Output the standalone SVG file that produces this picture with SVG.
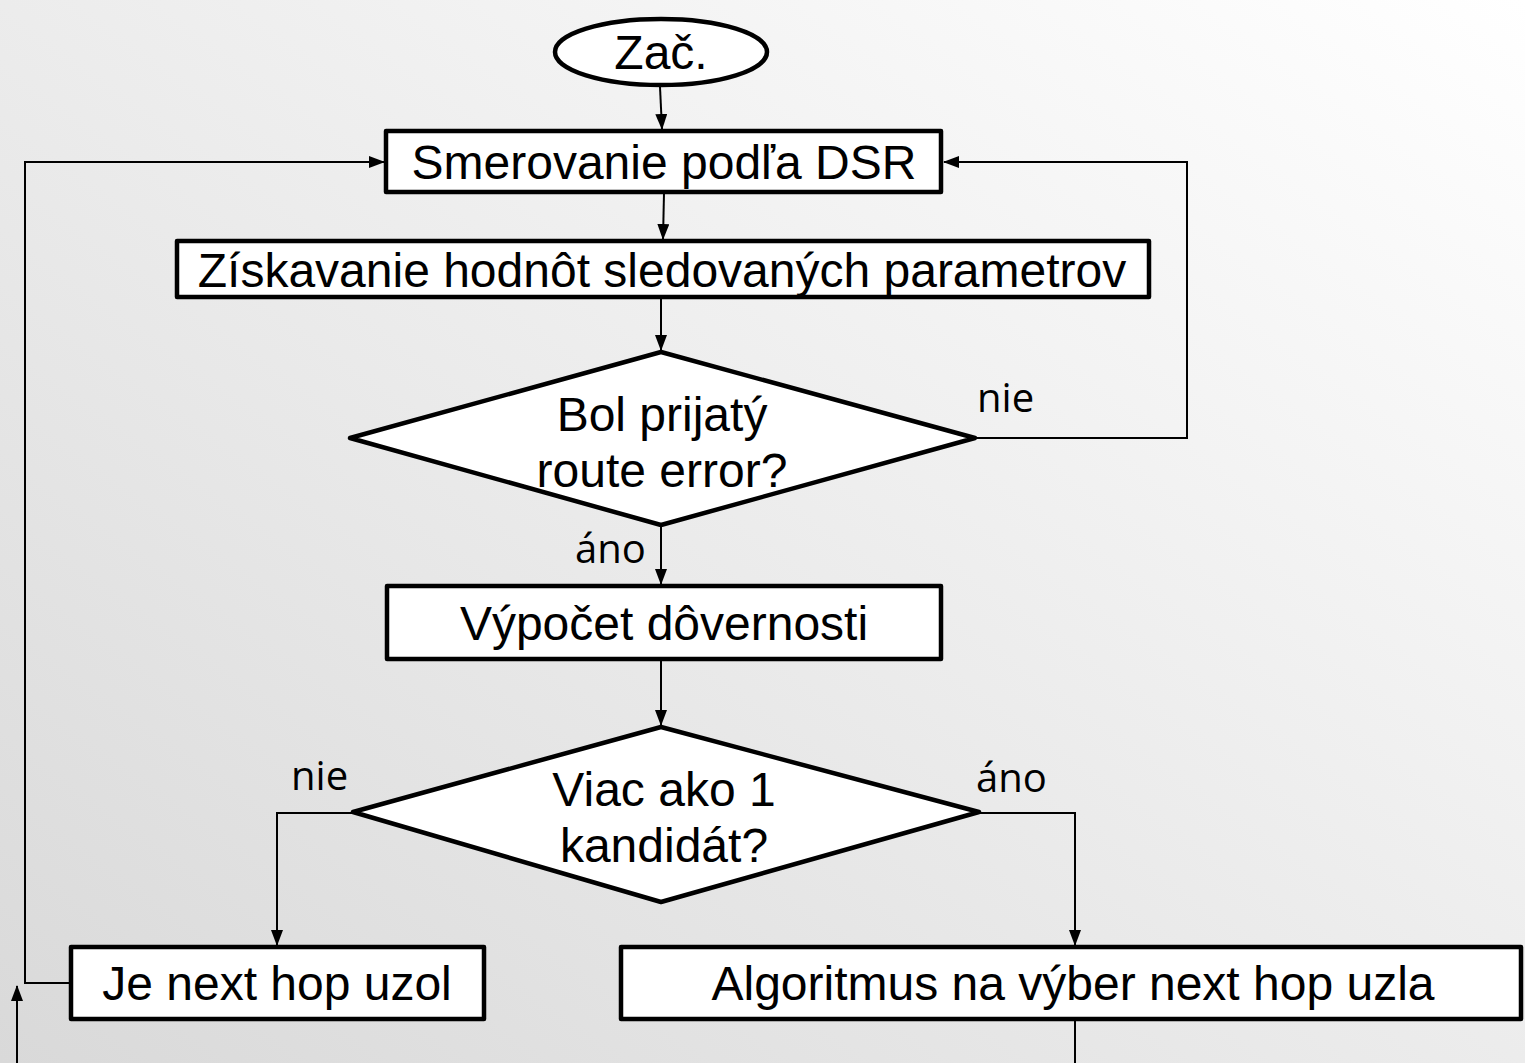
<svg xmlns="http://www.w3.org/2000/svg" width="1525" height="1063" viewBox="0 0 1525 1063">
<defs>
<linearGradient id="bg" x1="1" y1="0" x2="0" y2="1">
<stop offset="0" stop-color="#ffffff"/>
<stop offset="0.5" stop-color="#ececec"/>
<stop offset="1" stop-color="#d9d9d9"/>
</linearGradient>
<marker id="ah" markerWidth="16" markerHeight="12" refX="15" refY="6" orient="auto" markerUnits="userSpaceOnUse">
<path d="M0,0 L16,6 L0,12 Z" fill="#000"/>
</marker>
<style>
.box{fill:#fff;stroke:#000;stroke-width:4.5;stroke-linejoin:round}
.t{font-family:"Liberation Sans",Arial,sans-serif;font-size:48px;fill:#000;text-anchor:middle}
.lbl{font-family:"Open Sans","Liberation Sans",sans-serif;font-size:40px;fill:#000}
.c{fill:none;stroke:#000;stroke-width:2}
</style>
</defs>
<rect x="0" y="0" width="1525" height="1063" fill="url(#bg)"/>
<g id="connectors">
<path class="c" d="M660,87 L662,129" marker-end="url(#ah)"/>
<path class="c" d="M664,193 L663,239" marker-end="url(#ah)"/>
<path class="c" d="M661,298 L661,350" marker-end="url(#ah)"/>
<path class="c" d="M975,438 L1187,438 L1187,162 L944,162" marker-end="url(#ah)"/>
<path class="c" d="M71,983 L25,983 L25,162 L384,162" marker-end="url(#ah)"/>
<path class="c" d="M661,526 L661,584" marker-end="url(#ah)"/>
<path class="c" d="M661,660 L661,725" marker-end="url(#ah)"/>
<path class="c" d="M353,813 L277,813 L277,945" marker-end="url(#ah)"/>
<path class="c" d="M979,813 L1075,813 L1075,945" marker-end="url(#ah)"/>
<path class="c" d="M1075,1020 L1075,1063"/>
<path class="c" d="M17,1063 L17,986" marker-end="url(#ah)"/>
</g>
<g id="start">
<ellipse class="box" cx="661" cy="52" rx="106" ry="33"/>
<text class="t" x="661" y="69">Zač.</text>
</g>
<g id="dsr">
<rect class="box" x="386" y="131" width="555" height="61"/>
<text class="t" x="664" y="179">Smerovanie podľa DSR</text>
</g>
<g id="params">
<rect class="box" x="177" y="241" width="972" height="56"/>
<text class="t" x="662" y="287">Získavanie hodnôt sledovaných parametrov</text>
</g>
<g id="decision1">
<polygon class="box" points="661,352 975,438 661,525 350,438"/>
<text class="t" x="662" y="431">Bol prijatý</text>
<text class="t" x="662" y="487">route error?</text>
<text class="lbl" x="977" y="412">nie</text>
<text class="lbl" x="575" y="563">áno</text>
</g>
<g id="trust">
<rect class="box" x="387" y="586" width="554" height="73"/>
<text class="t" x="664" y="640">Výpočet dôvernosti</text>
</g>
<g id="decision2">
<polygon class="box" points="661,727 979,812 661,902 353,812"/>
<text class="t" x="664" y="806">Viac ako 1</text>
<text class="t" x="664" y="862">kandidát?</text>
<text class="lbl" x="291" y="790">nie</text>
<text class="lbl" x="976" y="792">áno</text>
</g>
<g id="nexthop">
<rect class="box" x="71" y="947" width="413" height="72"/>
<text class="t" x="277" y="1000">Je next hop uzol</text>
</g>
<g id="algorithm">
<rect class="box" x="621" y="947" width="900" height="72"/>
<text class="t" x="1073" y="1000">Algoritmus na výber next hop uzla</text>
</g>
</svg>
